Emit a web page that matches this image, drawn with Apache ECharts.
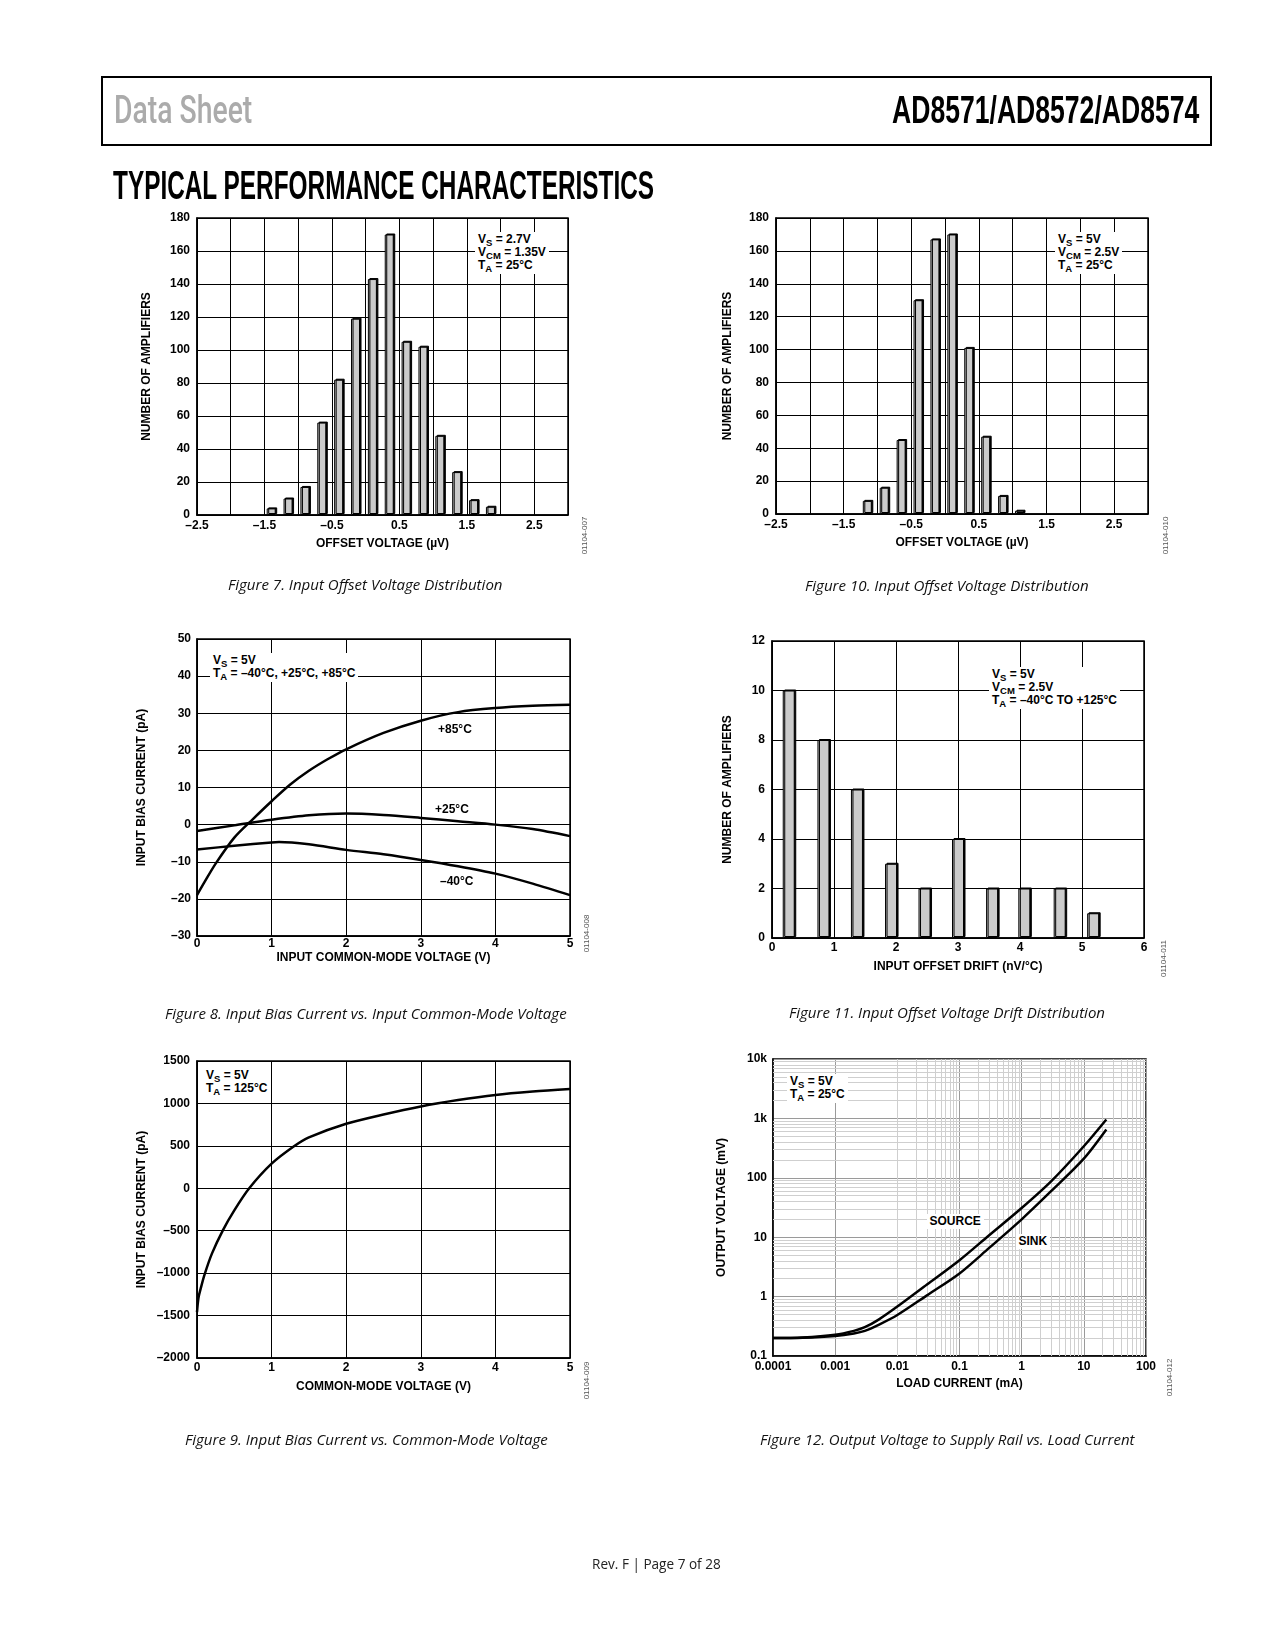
<!DOCTYPE html>
<html><head><meta charset="utf-8">
<script src="https://cdn.jsdelivr.net/npm/echarts@6/dist/echarts.min.js"></script>
<style>
html,body{margin:0;padding:0;background:#fff;}
#page{position:relative;width:1275px;height:1650px;overflow:hidden;background:#fff;}
#chart{position:absolute;left:0;top:0;width:1275px;height:1650px;}
.t{position:absolute;white-space:nowrap;transform-origin:0 50%;z-index:3;}
.hdrbox{position:absolute;left:101px;top:76px;width:1107px;height:66px;border:2px solid #000;z-index:3;}
.anno{position:absolute;background:#fff;font:bold 12px 'Liberation Sans',Arial,sans-serif;line-height:13px;padding:1px 3px 2px 3px;color:#000;white-space:nowrap;z-index:3;}
.anno sub{font-size:9.5px;line-height:0;vertical-align:-3px;}
.lbl{position:absolute;font:bold 12px 'Liberation Sans',Arial,sans-serif;color:#000;white-space:nowrap;line-height:13px;z-index:3;}
.id{position:absolute;font:8px 'Liberation Sans',Arial,sans-serif;color:#555;white-space:nowrap;line-height:9px;z-index:3;}
</style>
</head>
<body>
<div id="page">
  <div id="chart"></div>
  <div class="hdrbox"></div>
</div>
<script>
// ---------------- DATA ----------------
// Figure 7: offset voltage histogram, VS = 2.7V
const fig7BinCenters = [-1.4, -1.15, -0.9, -0.65, -0.4, -0.15, 0.1, 0.35, 0.6, 0.85, 1.1, 1.35, 1.6, 1.85];
const fig7Counts     = [4, 10, 17, 56, 82, 119, 143, 170, 105, 102, 48, 26, 9, 5];
// Figure 10: offset voltage histogram, VS = 5V
const fig10BinCenters = [-1.15, -0.9, -0.65, -0.4, -0.15, 0.1, 0.35, 0.6, 0.85, 1.1];
const fig10Counts     = [8, 16, 45, 130, 167, 170, 101, 47, 11, 2];
// Figure 8: input bias current vs common-mode voltage
const fig8X85  = [0, 0.1, 0.25, 0.5, 0.75, 1, 1.25, 1.5, 1.75, 2, 2.5, 3, 3.5, 4, 4.5, 5];
const fig8Y85  = [-19, -15.5, -10.5, -3.5, 1.5, 6.3, 10.8, 14.5, 17.6, 20.3, 24.7, 28, 30.3, 31.4, 32, 32.3];
const fig8X25  = [0, 0.5, 1, 1.5, 2, 2.5, 3, 3.5, 4, 4.5, 5];
const fig8Y25  = [-1.7, -0.2, 1.3, 2.5, 3.0, 2.6, 1.8, 0.9, 0, -1.2, -3.1];
const fig8Xm40 = [0, 0.5, 1, 1.1, 1.5, 2, 2.5, 3, 3.5, 4, 4.5, 5];
const fig8Ym40 = [-6.7, -5.7, -4.8, -4.7, -5.3, -6.8, -8.0, -9.5, -11.2, -13.2, -15.9, -19];
// Figure 11: offset drift histogram
const fig11BinCenters = [0.27, 0.83, 1.37, 1.92, 2.46, 3.0, 3.55, 4.07, 4.64, 5.18];
const fig11Counts     = [10, 8, 6, 3, 2, 4, 2, 2, 2, 1];
// Figure 9: input bias current at 125C
const fig9X = [0, 0.02, 0.05, 0.1, 0.2, 0.35, 0.5, 0.7, 1, 1.3, 1.5, 2, 2.5, 3, 3.5, 4, 4.5, 5];
const fig9Y = [-1460, -1290, -1180, -1020, -770, -490, -260, 0, 290, 495, 600, 760, 870, 965, 1040, 1100, 1140, 1170];
// Figure 12: output voltage to supply rail vs load current
const fig12X      = [0.0001, 0.0003, 0.001, 0.002, 0.003, 0.005, 0.01, 0.03, 0.1, 0.3, 1, 3, 10, 23];
const fig12Source = [0.2, 0.205, 0.228, 0.265, 0.305, 0.41, 0.68, 1.6, 4.1, 10.8, 31, 88, 340, 960];
const fig12Sink   = [0.2, 0.203, 0.218, 0.24, 0.265, 0.335, 0.49, 1.05, 2.45, 6.6, 20, 60, 210, 650];
// Tick labels
const offsetTickVals   = [-2.5, -1.5, -0.5, 0.5, 1.5, 2.5];
const offsetTickLabels = ['–2.5', '–1.5', '–0.5', '0.5', '1.5', '2.5'];
const fig12XTickLabels = ['0.0001', '0.001', '0.01', '0.1', '1', '10', '100'];
const fig12YTickLabels = ['0.1', '1', '10', '100', '1k', '10k'];

// ---------------- HELPERS ----------------
const FONT = 'Liberation Sans, Arial, sans-serif';
const pairs = (xs, ys) => xs.map((x, i) => [x, ys[i]]);
const dashNum = v => (v < -1e-9 ? '–' : '') + String(Math.abs(Math.round(v * 1000) / 1000));
const labelStyle = (margin) => ({ color: '#000', fontSize: 12, fontWeight: 'bold', fontFamily: FONT, margin: margin, hideOverlap: false, showMinLabel: true, showMaxLabel: true });
const nameStyle = { color: '#000', fontSize: 12, fontWeight: 'bold', fontFamily: FONT };
const blackSplit = { show: true, lineStyle: { color: '#000', width: 1 } };
const axLine = { show: true, onZero: false, lineStyle: { color: '#000', width: 1.5 } };

function vAxis(grid, min, max, interval, name, gap, margin, formatter, isY) {
  return {
    type: 'value', gridIndex: grid, min: min, max: max, interval: interval,
    axisLine: axLine, axisTick: { show: false }, splitLine: blackSplit,
    axisLabel: Object.assign(labelStyle(margin), { formatter: formatter || dashNum }),
    name: name, nameLocation: 'middle', nameGap: gap, nameRotate: isY ? 90 : 0,
    nameTextStyle: nameStyle, nameMoveOverlap: false
  };
}
const offsetFmt = v => { const i = offsetTickVals.findIndex(t => Math.abs(t - v) < 1e-6); return i >= 0 ? offsetTickLabels[i] : ''; };

const grids = [
  { left: 197, top: 218, width: 371, height: 297 },  // fig 7
  { left: 776, top: 218, width: 372, height: 296 },  // fig 10
  { left: 197, top: 639, width: 373, height: 297 },  // fig 8
  { left: 772, top: 641, width: 372, height: 297 },  // fig 11
  { left: 197, top: 1061, width: 373, height: 297 }, // fig 9
  { left: 773, top: 1059, width: 373, height: 297 }  // fig 12
].map(g => Object.assign(g, { show: true, borderColor: '#000', borderWidth: 1.5, backgroundColor: 'transparent', containLabel: false, outerBoundsMode: 'none' }));

const xAxes = [
  vAxis(0, -2.5, 3, 0.5, 'OFFSET VOLTAGE (µV)', 23, 5, offsetFmt, false),
  vAxis(1, -2.5, 3, 0.5, 'OFFSET VOLTAGE (µV)', 23, 5, offsetFmt, false),
  vAxis(2, 0, 5, 1, 'INPUT COMMON-MODE VOLTAGE (V)', 16, 2, null, false),
  vAxis(3, 0, 6, 1, 'INPUT OFFSET DRIFT (nV/°C)', 23, 4, null, false),
  vAxis(4, 0, 5, 1, 'COMMON-MODE VOLTAGE (V)', 23, 4, null, false),
  {
    type: 'log', logBase: 10, gridIndex: 5, min: 0.0001, max: 100, splitNumber: 6,
    axisLine: axLine, axisTick: { show: false },
    splitLine: { show: true, lineStyle: { color: '#9a9a9a', width: 1 } },
    axisLabel: Object.assign(labelStyle(5), { formatter: v => fig12XTickLabels[Math.round(Math.log10(v)) + 4] || '' }),
    name: 'LOAD CURRENT (mA)', nameLocation: 'middle', nameGap: 22, nameTextStyle: nameStyle, nameMoveOverlap: false
  }
];
const yAxes = [
  vAxis(0, 0, 180, 20, 'NUMBER OF AMPLIFIERS', 44, 7, null, true),
  vAxis(1, 0, 180, 20, 'NUMBER OF AMPLIFIERS', 42, 7, null, true),
  vAxis(2, -30, 50, 10, 'INPUT BIAS CURRENT (pA)', 49, 6, null, true),
  vAxis(3, 0, 12, 2, 'NUMBER OF AMPLIFIERS', 38, 7, null, true),
  vAxis(4, -2000, 1500, 500, 'INPUT BIAS CURRENT (pA)', 49, 7, null, true),
  {
    type: 'log', logBase: 10, gridIndex: 5, min: 0.1, max: 10000, splitNumber: 5,
    axisLine: axLine, axisTick: { show: false },
    splitLine: { show: true, lineStyle: { color: '#9a9a9a', width: 1 } },
    axisLabel: Object.assign(labelStyle(6), { formatter: v => fig12YTickLabels[Math.round(Math.log10(v)) + 1] || '' }),
    name: 'OUTPUT VOLTAGE (mV)', nameLocation: 'middle', nameGap: 45, nameRotate: 90, nameTextStyle: nameStyle, nameMoveOverlap: false
  }
];

const barStyle = { color: '#cbcbcb', borderColor: '#000', borderWidth: 1, shadowColor: '#000', shadowOffsetX: 1.5, shadowOffsetY: -1, shadowBlur: 0 };
const curveStyle = { color: '#000', width: 2.5 };
function curve(idx, xs, ys) {
  return { type: 'line', xAxisIndex: idx, yAxisIndex: idx, data: pairs(xs, ys), symbol: 'none', smooth: 0.3, lineStyle: curveStyle, itemStyle: { color: '#000' }, z: 5 };
}
// minor log grid values for figure 12 (grid lines only)
const minorX = [], minorY = [];
for (let d = -4; d <= 1; d++) for (let k = 2; k <= 9; k++) minorX.push(+(k * Math.pow(10, d)).toPrecision(3));
for (let d = -1; d <= 3; d++) for (let k = 2; k <= 9; k++) minorY.push(+(k * Math.pow(10, d)).toPrecision(3));

const series = [
  { type: 'bar', xAxisIndex: 0, yAxisIndex: 0, data: pairs(fig7BinCenters, fig7Counts), barWidth: 9, itemStyle: barStyle },
  { type: 'bar', xAxisIndex: 1, yAxisIndex: 1, data: pairs(fig10BinCenters, fig10Counts), barWidth: 9, itemStyle: barStyle },
  curve(2, fig8X85, fig8Y85),
  curve(2, fig8X25, fig8Y25),
  curve(2, fig8Xm40, fig8Ym40),
  { type: 'bar', xAxisIndex: 3, yAxisIndex: 3, data: pairs(fig11BinCenters, fig11Counts), barWidth: 12, itemStyle: barStyle },
  curve(4, fig9X, fig9Y),
  {
    type: 'line', xAxisIndex: 5, yAxisIndex: 5, data: pairs(fig12X, fig12Sink), symbol: 'none', lineStyle: { opacity: 0 }, silent: true, z: 1,
    markLine: {
      silent: true, symbol: ['none', 'none'], label: { show: false }, animation: false,
      lineStyle: { color: '#cfcfcf', width: 1, type: 'solid' },
      emphasis: { disabled: true },
      data: minorX.map(v => ({ xAxis: v })).concat(minorY.map(v => ({ yAxis: v })))
    }
  },
  curve(5, fig12X, fig12Source),
  curve(5, fig12X, fig12Sink)
];

const chart = echarts.init(document.getElementById('chart'), null, { renderer: 'canvas' });
chart.setOption({ animation: false, grid: grids, xAxis: xAxes, yAxis: yAxes, series: series });

// ---------------- TEXT OVERLAYS ----------------
const page = document.getElementById('page');
function fitText(str, o) {
  const s = document.createElement('div');
  s.className = 't';
  s.textContent = str;
  s.style.font = (o.style || 'normal') + ' ' + (o.weight || 'normal') + ' ' + o.size + 'px ' + o.family;
  s.style.lineHeight = o.size + 'px';
  s.style.color = o.color || '#000';
  page.appendChild(s);
  const nat = s.offsetWidth;
  const sc = o.w / nat;
  const left = (o.cx !== undefined) ? o.cx - o.w / 2 : o.x;
  s.style.left = left + 'px';
  s.style.top = (o.cy - o.size / 2) + 'px';
  s.style.transform = 'scaleX(' + sc + ')';
}
const COND = "'Liberation Sans', Arial, sans-serif";
const CAP = "'Open Sans', 'Noto Sans', sans-serif";
fitText('Data Sheet', { x: 114, cy: 110, w: 138, size: 38, family: "Roboto, 'Liberation Sans', sans-serif", weight: '500', color: '#ababab' });
fitText('AD8571/AD8572/AD8574', { x: 892, cy: 110, w: 307, size: 38, family: COND, weight: 'bold', color: '#000' });
fitText('TYPICAL PERFORMANCE CHARACTERISTICS', { x: 113, cy: 185, w: 541, size: 40, family: COND, weight: 'bold', color: '#000' });

const captions = [
  ['Figure 7. Input Offset Voltage Distribution', 365, 584, 275],
  ['Figure 10. Input Offset Voltage Distribution', 947, 585, 284],
  ['Figure 8. Input Bias Current vs. Input Common-Mode Voltage', 366, 1013, 402],
  ['Figure 11. Input Offset Voltage Drift Distribution', 947, 1012, 316],
  ['Figure 9. Input Bias Current vs. Common-Mode Voltage', 366, 1439, 363],
  ['Figure 12. Output Voltage to Supply Rail vs. Load Current', 947, 1439, 374]
];
captions.forEach(c => fitText(c[0], { cx: c[1], cy: c[2], w: c[3], size: 15, family: CAP, style: 'italic', color: '#111' }));
fitText('Rev. F | Page 7 of 28', { cx: 656, cy: 1564, w: 129, size: 14, family: CAP, color: '#222' });

function anno(html, x, y) {
  const d = document.createElement('div');
  d.className = 'anno';
  d.innerHTML = html;
  d.style.left = x + 'px'; d.style.top = y + 'px';
  page.appendChild(d);
}
anno('V<sub>S</sub> = 2.7V<br>V<sub>CM</sub> = 1.35V<br>T<sub>A</sub> = 25°C', 475, 232);
anno('V<sub>S</sub> = 5V<br>V<sub>CM</sub> = 2.5V<br>T<sub>A</sub> = 25°C', 1055, 232);
anno('V<sub>S</sub> = 5V<br>T<sub>A</sub> = –40°C, +25°C, +85°C', 210, 653);
anno('V<sub>S</sub> = 5V<br>V<sub>CM</sub> = 2.5V<br>T<sub>A</sub> = –40°C TO +125°C', 989, 667);
anno('V<sub>S</sub> = 5V<br>T<sub>A</sub> = 125°C', 203, 1068);
anno('V<sub>S</sub> = 5V<br>T<sub>A</sub> = 25°C', 787, 1074);

function lbl(str, cx, cy, bg) {
  const d = document.createElement('div');
  d.className = 'lbl';
  d.textContent = str;
  if (bg) { d.style.background = '#fff'; d.style.padding = '1px 3px'; }
  page.appendChild(d);
  d.style.left = (cx - d.offsetWidth / 2) + 'px';
  d.style.top = (cy - d.offsetHeight / 2) + 'px';
}
lbl('+85°C', 455, 729); lbl('+25°C', 452, 809); lbl('–40°C', 457, 881);
lbl('SOURCE', 955, 1221, true); lbl('SINK', 1033, 1241, true);

function figId(str, cx, cy) {
  const d = document.createElement('div');
  d.className = 'id';
  d.textContent = str;
  page.appendChild(d);
  const w = d.offsetWidth, h = d.offsetHeight;
  d.style.left = (cx - w / 2) + 'px';
  d.style.top = (cy - h / 2) + 'px';
  d.style.transform = 'rotate(-90deg)';
}
figId('01104-007', 585, 535); figId('01104-010', 1166, 535);
figId('01104-008', 587, 933); figId('01104-011', 1163, 958);
figId('01104-009', 587, 1380); figId('01104-012', 1170, 1377);
</script>
</body></html>
